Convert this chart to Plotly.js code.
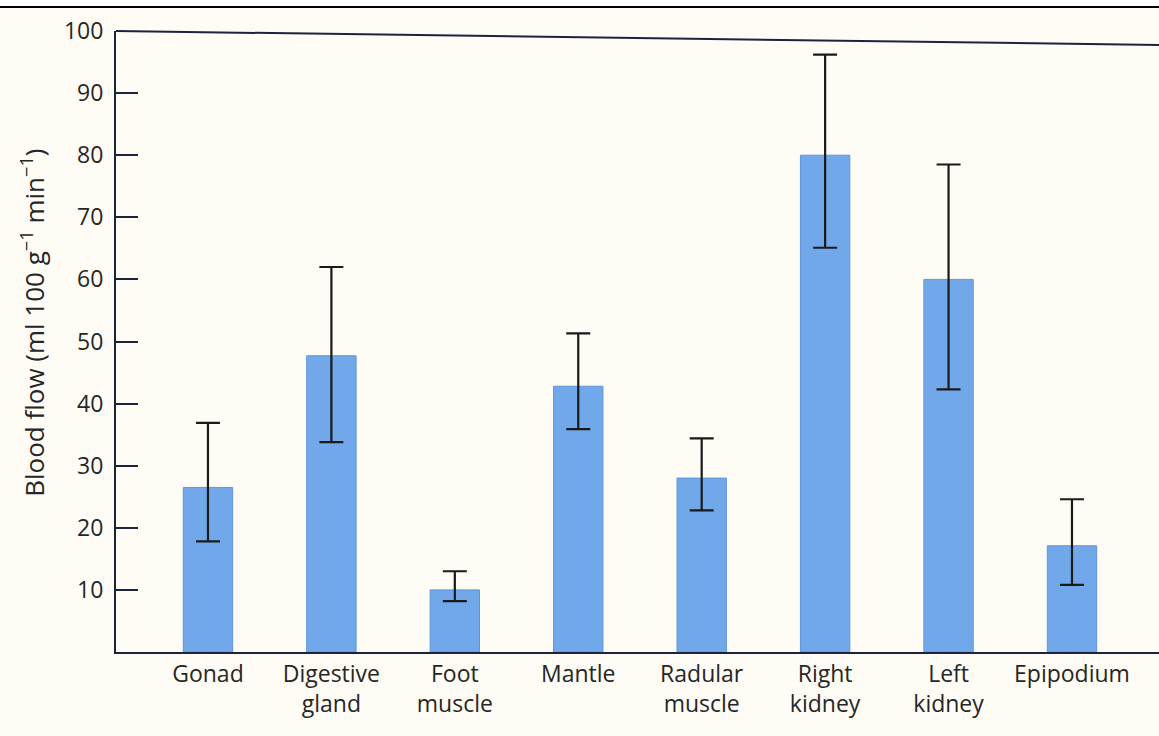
<!DOCTYPE html>
<html>
<head>
<meta charset="utf-8">
<script src="https://cdn.plot.ly/plotly-3.0.1.min.js"></script>
<style>
  html, body { margin: 0; padding: 0; background: #fefcf5; }
  #chart { width: 1159px; height: 736px; }
</style>
</head>
<body>
<div id="chart"></div>
<script>
// Data
const categories = ['Gonad', 'Digestive<br>gland', 'Foot<br>muscle', 'Mantle', 'Radular<br>muscle', 'Right<br>kidney', 'Left<br>kidney', 'Epipodium'];
const bloodFlow  = [26.5, 47.7, 10.0, 42.8, 28.0, 80.0, 60.0, 17.1];
const errTop     = [36.9, 62.0, 13.0, 51.3, 34.4, 96.2, 78.5, 24.6];
const errBottom  = [17.8, 33.8, 8.2, 35.9, 22.8, 65.1, 42.3, 10.8];
const yTickVals  = [10, 20, 30, 40, 50, 60, 70, 80, 90, 100];
const yTitle     = 'Blood flow (ml 100 g<sup>\u22121</sup> min<sup>\u22121</sup>)';

const plus  = errTop.map((t, i) => t - bloodFlow[i]);
const minus = bloodFlow.map((v, i) => v - errBottom[i]);

const axisColor = '#1c2340';
const textColor = '#262626';
const fontFam = '"Open Sans", Lato, sans-serif';

const trace = {
  type: 'bar',
  x: categories,
  y: bloodFlow,
  marker: { color: '#70a8ea', line: { color: '#5e95da', width: 1 } },
  error_y: {
    type: 'data', symmetric: false,
    array: plus, arrayminus: minus,
    color: '#1a1a1a', thickness: 2.2, width: 12
  },
  hoverinfo: 'x+y'
};

const layout = {
  width: 1159, height: 736,
  margin: { l: 116, r: 0, t: 31, b: 84 },
  paper_bgcolor: '#fefcf5',
  plot_bgcolor: '#fefcf5',
  bargap: 0.6,
  showlegend: false,
  font: { family: fontFam, color: textColor },
  xaxis: {
    type: 'category',
    range: [-0.745, 7.705],
    showline: true, linecolor: axisColor, linewidth: 2,
    ticks: '', showgrid: false, zeroline: false,
    tickfont: { family: fontFam, size: 23, color: textColor },
    ticklabelstandoff: 0
  },
  yaxis: {
    range: [0, 100],
    showline: true, linecolor: axisColor, linewidth: 2,
    ticks: 'inside', ticklen: 22, tickwidth: 2, tickcolor: axisColor,
    tickvals: yTickVals,
    showgrid: false, zeroline: false,
    tickfont: { family: fontFam, size: 23, color: textColor },
    ticklabelstandoff: 6
  },
  annotations: [
    { text: yTitle, xref: 'paper', yref: 'paper', x: -0.0796, y: 0.53,
      xanchor: 'center', yanchor: 'middle', textangle: -90, showarrow: false,
      font: { family: fontFam, size: 26, color: textColor } }
  ],
  shapes: [
    // sloped top frame line (scan skew)
    { type: 'line', xref: 'paper', yref: 'paper', x0: 0, y0: 1, x1: 1, y1: 0.9775,
      line: { color: axisColor, width: 2 } },
    // white strip and black border at very top of the image
    { type: 'rect', xref: 'paper', yref: 'paper', x0: -0.12, x1: 1.01, y0: 1.0386, y1: 1.06,
      fillcolor: '#ffffff', line: { width: 0 }, layer: 'below' },
    { type: 'line', xref: 'paper', yref: 'paper', x0: -0.12, x1: 1.01, y0: 1.0386, y1: 1.0386,
      line: { color: '#000000', width: 2 } }
  ]
};

Plotly.newPlot('chart', [trace], layout, { displayModeBar: false, staticPlot: true });
</script>
</body>
</html>
